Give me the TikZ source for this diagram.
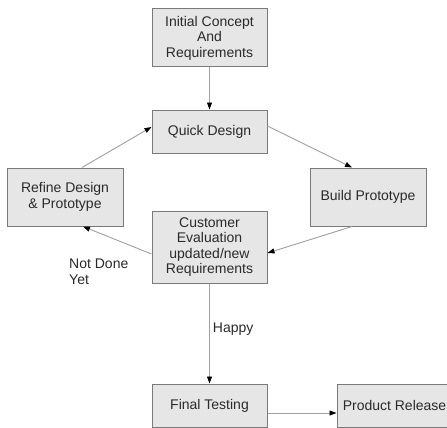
\documentclass[tikz,border=0pt]{standalone}
\usepackage{fontspec}
\setmainfont{Liberation Sans}
\usetikzlibrary{arrows.meta}
\definecolor{boxfill}{HTML}{E6E6E6}
\definecolor{boxline}{HTML}{7A7A7A}
\definecolor{conn}{HTML}{A0A0A0}
\definecolor{txt}{HTML}{2A2A2A}
\begin{document}
\begin{tikzpicture}[x=1pt,y=-1pt,
  box/.style={draw=boxline,fill=boxfill,line width=1pt,minimum width=115pt,inner sep=0pt,
    align=center,text=txt,font=\fontsize{14}{15.5}\selectfont},
  link/.style={draw=conn,line width=0.9pt,-{Triangle[length=7pt,width=5pt,color=black]}},
  lbl/.style={text=txt,font=\fontsize{14}{15.5}\selectfont,inner sep=0pt}]
\useasboundingbox (0,0) rectangle (447,428);
\clip (0,0) rectangle (447,428);
\fill[white] (0,0) rectangle (447,428);
\node[box,minimum height=58pt] (init) at (209.5,38) {Initial Concept\\And\\Requirements};
\node[box,minimum height=43pt] (quick) at (209.5,131.5) {Quick Design};
\node[box,minimum height=58pt,minimum width=116pt] (refine) at (65,197) {Refine Design\\\& Prototype};
\node[box,minimum height=58pt,minimum width=116pt] (build) at (368,197) {Build Prototype};
\node[box,minimum height=72pt] (cust) at (209.5,247) {Customer\\Evaluation\\updated/new\\Requirements};
\node[box,minimum height=43pt] (final) at (209.5,405.5) {Final Testing};
\node[box,minimum height=43pt] (prod) at (394.5,405.5) {Product Release};
\node[lbl,anchor=north west,align=left] (notdone) at (69,259) {Not Done\\Yet};
\draw[link] (init.south) -- (quick.north);
\draw[link] ([yshift=5.5pt]quick.east) -- ([xshift=-16pt]build.north);
\draw[link] ([xshift=-16pt]build.south) -- ([yshift=-6pt]cust.east);
\draw[link] ([yshift=-7pt]cust.west) -- ([xshift=18pt]refine.south);
\draw[link] ([xshift=17pt]refine.north) -- ([yshift=4.5pt]quick.west);
\draw[link] (cust.south) -- node[lbl,anchor=west,pos=0.455,xshift=3pt] (happy) {Happy} (final.north);
\draw[link] ([yshift=-7.5pt]final.east) -- ([yshift=-7.5pt]prod.west);
\end{tikzpicture}
\end{document}
